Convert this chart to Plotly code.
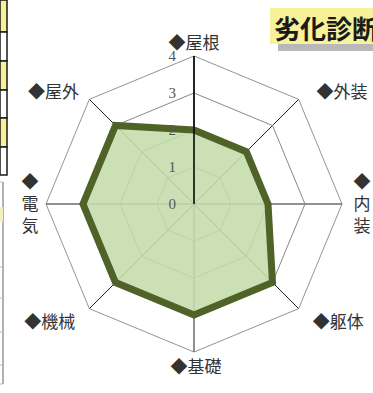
import plotly.graph_objects as go

# 劣化診断 レーダーチャート
NB = "\u00a0"
categories = ["屋根", "外装", "内装", "躯体", "基礎", "機械", "電気", "屋外"]
tick_labels = ["◆屋根", NB * 4 + "◆外装",
               NB * 2 + "◆<br>" + NB * 2 + "内<br>" + NB * 2 + "装",
               NB * 3 + "◆躯体", NB + "◆基礎", "◆機械" + NB * 3,
               "◆" + NB + "<br>電" + NB + "<br>気" + NB, "◆屋外" + NB * 2]
scores = [2, 2, 2, 3, 3, 3, 3, 3]
radial_ticks = [0, 1, 2, 3, 4]

LINE_COLOR = "#4f6228"
FILL_COLOR = "rgba(196,220,170,0.88)"
JP_FONT = "Noto Sans CJK JP"

W, H = 373, 393
# polar area in pixels: center (194,204), radius 148
cx, cy, r = 194, 204, 148

fig = go.Figure()
fig.add_trace(go.Scatterpolar(
    r=scores + scores[:1],
    theta=categories + categories[:1],
    mode="lines",
    fill="toself",
    fillcolor=FILL_COLOR,
    line=dict(color=LINE_COLOR, width=7),
    hoverinfo="skip",
))

fig.update_layout(
    width=W, height=H,
    margin=dict(l=0, r=0, t=0, b=0),
    paper_bgcolor="white",
    showlegend=False,
    polar=dict(
        domain=dict(x=[(cx - r) / W, (cx + r) / W], y=[1 - (cy + r) / H, 1 - (cy - r) / H]),
        bgcolor="white",
        gridshape="linear",
        angularaxis=dict(
            direction="clockwise",
            rotation=90,
            tickmode="array",
            tickvals=categories,
            ticktext=tick_labels,
            ticks="",
            tickfont=dict(family=JP_FONT, size=17, color="#333333"),
            showline=True,
            linecolor="#777777",
            linewidth=0.8,
            gridcolor="#222222",
            gridwidth=0.8,
            layer="above traces",
        ),
        radialaxis=dict(
            range=[0, 4],
            tickvals=radial_ticks,
            angle=90,
            tickangle=90,
            side="counterclockwise",
            showline=True,
            linecolor="black",
            linewidth=1.5,
            ticks="outside",
            ticklen=12,
            tickcolor="rgba(0,0,0,0)",
            tickfont=dict(family="Liberation Serif", size=15, color="#555555"),
            gridcolor="#888888",
            gridwidth=0.8,
            layer="above traces",
        ),
    ),
)

# title box (cut off at the right edge)
fig.add_shape(type="rect", xref="paper", yref="paper",
              x0=278 / W, x1=1.0, y0=1 - 51 / H, y1=1 - 43 / H,
              fillcolor="#b8b8b8", line_width=0, layer="below")
fig.add_shape(type="rect", xref="paper", yref="paper",
              x0=270 / W, x1=1.0, y0=1 - 44 / H, y1=1 - 8 / H,
              fillcolor="#f7f19a", line_width=0, layer="below")
fig.add_annotation(text="<b>劣化診断</b>", xref="paper", yref="paper",
                   x=272 / W, y=1 - 27 / H, xanchor="left", yanchor="middle",
                   showarrow=False, font=dict(family=JP_FONT, size=26, color="#1a1a1a"))

# left-hand table fragments from the page
rows = [(0, 32, "#f7f19a"), (32, 61, "white"), (61, 90, "#f7f19a"),
        (90, 118, "white"), (118, 147, "#f7f19a"), (147, 175, "white")]
for y0, y1, col in rows:
    fig.add_shape(type="rect", xref="paper", yref="paper",
                  x0=0, x1=7 / W, y0=1 - y1 / H, y1=1 - y0 / H,
                  fillcolor=col, line=dict(color="#1a1a1a", width=1.5))
fig.add_shape(type="line", xref="paper", yref="paper",
              x0=3 / W, x1=3 / W, y0=1 - 384 / H, y1=1 - 182 / H,
              line=dict(color="#999999", width=1.5))
fig.add_shape(type="rect", xref="paper", yref="paper",
              x0=0, x1=3 / W, y0=1 - 222 / H, y1=1 - 207 / H,
              fillcolor="#f3f0c0", line_width=0)
for yt in [182, 267, 298, 332, 365, 384]:
    fig.add_shape(type="line", xref="paper", yref="paper",
                  x0=0, x1=3 / W, y0=1 - yt / H, y1=1 - yt / H,
                  line=dict(color="#bbbbbb", width=1))

# page body has a default margin; drop it so the figure sits at the corner
fig.write_html("out.html", config={"displayModeBar": False},
               post_script="document.body.style.margin='0';")
